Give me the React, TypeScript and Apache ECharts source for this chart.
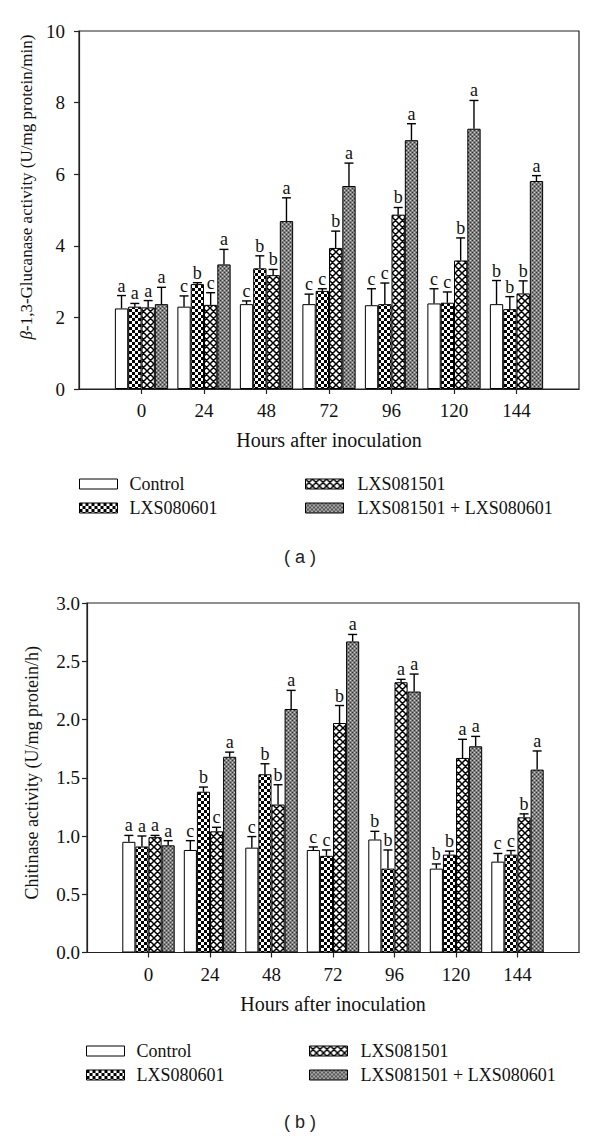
import React, { useEffect, useRef } from "react";
import * as echarts from "echarts";

// ---------- data ----------
const hours = ["0", "24", "48", "72", "96", "120", "144"];
const edgeLabels = ["-24", "168"];
const seriesNames = ["Control", "LXS080601", "LXS081501", "LXS081501 + LXS080601"];

// (a) beta-1,3-glucanase activity
const glucControl = [2.25, 2.3, 2.37, 2.37, 2.34, 2.39, 2.37];
const glucControlErr = [0.36, 0.3, 0.09, 0.28, 0.46, 0.41, 0.66];
const glucLXS080601 = [2.3, 2.93, 3.37, 2.74, 2.37, 2.41, 2.23];
const glucLXS080601Err = [0.09, 0.04, 0.35, 0.06, 0.59, 0.3, 0.35];
const glucLXS081501 = [2.28, 2.35, 3.18, 3.94, 4.87, 3.59, 2.67];
const glucLXS081501Err = [0.19, 0.34, 0.16, 0.47, 0.2, 0.63, 0.35];
const glucCombo = [2.37, 3.48, 4.69, 5.67, 6.95, 7.27, 5.81];
const glucComboErr = [0.47, 0.42, 0.65, 0.64, 0.46, 0.79, 0.15];
const glucLettersControl = ["a", "c", "c", "c", "c", "c", "b"];
const glucLettersLXS080601 = ["a", "b", "b", "c", "c", "c", "b"];
const glucLettersLXS081501 = ["a", "c", "b", "b", "b", "b", "b"];
const glucLettersCombo = ["a", "a", "a", "a", "a", "a", "a"];

// (b) chitinase activity
const chitControl = [0.95, 0.88, 0.9, 0.88, 0.97, 0.72, 0.78];
const chitControlErr = [0.055, 0.08, 0.095, 0.026, 0.07, 0.04, 0.07];
const chitLXS080601 = [0.91, 1.38, 1.53, 0.83, 0.72, 0.84, 0.84];
const chitLXS080601Err = [0.09, 0.04, 0.09, 0.05, 0.16, 0.03, 0.035];
const chitLXS081501 = [0.99, 1.04, 1.27, 1.97, 2.32, 1.67, 1.16];
const chitLXS081501Err = [0.015, 0.035, 0.17, 0.15, 0.025, 0.16, 0.03];
const chitCombo = [0.92, 1.68, 2.09, 2.67, 2.24, 1.77, 1.57];
const chitComboErr = [0.04, 0.04, 0.16, 0.06, 0.15, 0.085, 0.16];
const chitLettersControl = ["a", "c", "c", "c", "b", "b", "c"];
const chitLettersLXS080601 = ["a", "b", "b", "c", "b", "b", "c"];
const chitLettersLXS081501 = ["a", "c", "b", "b", "a", "a", "b"];
const chitLettersCombo = ["a", "a", "a", "a", "a", "a", "a"];

const glucTicks = ["0", "2", "4", "6", "8", "10"];
const chitTicks = ["0.0", "0.5", "1.0", "1.5", "2.0", "2.5", "3.0"];

// ---------- style ----------
const SERIF = "Liberation Serif";
const SANS = "Liberation Sans";
const INK = "#111";
const BAR_FRAC = 0.213;

function makePattern(size: number, draw: (ctx: CanvasRenderingContext2D, s: number) => void) {
  const c = document.createElement("canvas");
  c.width = size;
  c.height = size;
  const ctx = c.getContext("2d") as CanvasRenderingContext2D;
  draw(ctx, size);
  return { image: c.toDataURL(), repeat: "repeat", imageWidth: size, imageHeight: size } as any;
}

function buildPatterns() {
  const white = "#ffffff";
  const checker = makePattern(6, (ctx, s) => {
    ctx.fillStyle = "#fff";
    ctx.fillRect(0, 0, s, s);
    ctx.fillStyle = "#000";
    ctx.fillRect(0, 0, 3, 3);
    ctx.fillRect(3, 3, 3, 3);
  });
  const cross = makePattern(7, (ctx, s) => {
    ctx.fillStyle = "#fff";
    ctx.fillRect(0, 0, s, s);
    ctx.strokeStyle = "#000";
    ctx.lineWidth = 1.5;
    ctx.beginPath();
    for (let k = -1; k <= 1; k++) {
      ctx.moveTo(k * s - 1, -1);
      ctx.lineTo(k * s + s + 1, s + 1);
      ctx.moveTo(k * s + s + 1, -1);
      ctx.lineTo(k * s - 1, s + 1);
    }
    ctx.stroke();
  });
  const stipple = makePattern(4, (ctx, s) => {
    ctx.fillStyle = "#7e7e7e";
    ctx.fillRect(0, 0, s, s);
    ctx.fillStyle = "#333";
    ctx.fillRect(0, 0, 1, 1);
    ctx.fillRect(2, 2, 1, 1);
    ctx.fillStyle = "#d0d0d0";
    ctx.fillRect(0, 2, 1, 1);
    ctx.fillRect(2, 0, 1, 1);
  });
  return [white, checker, cross, stipple];
}

export default function App() {
  const ref = useRef<HTMLDivElement>(null);

  useEffect(() => {
    document.body.style.margin = "0";
    if (!ref.current) return;
    const chart = echarts.init(ref.current, null, { renderer: "svg" });
    const fills = buildPatterns();
    const xCats = [edgeLabels[0], ...hours, edgeLabels[1]];

    const panels = [
      {
        vals: [glucControl, glucLXS080601, glucLXS081501, glucCombo],
        errs: [glucControlErr, glucLXS080601Err, glucLXS081501Err, glucComboErr],
        letters: [glucLettersControl, glucLettersLXS080601, glucLettersLXS081501, glucLettersCombo],
        ticks: glucTicks,
        max: 10,
        interval: 2,
        grid: { left: 79, top: 31, width: 500, height: 358 },
        yName: "{it|β}-1,3-Glucanase activity (U/mg protein/min)",
        yNameGap: 33,
        yNameSize: 17,
        yNameShift: 46,
        labelMargin: 14,
        legendX: [79, 305],
        legendTextX: [129, 357],
        legendY: [484, 508],
        tag: "( a )",
        tagY: 557,
      },
      {
        vals: [chitControl, chitLXS080601, chitLXS081501, chitCombo],
        errs: [chitControlErr, chitLXS080601Err, chitLXS081501Err, chitComboErr],
        letters: [chitLettersControl, chitLettersLXS080601, chitLettersLXS081501, chitLettersCombo],
        ticks: chitTicks,
        max: 3,
        interval: 0.5,
        grid: { left: 87, top: 603, width: 492, height: 349.5 },
        yName: "Chitinase activity (U/mg protein/h)",
        yNameGap: 46,
        yNameSize: 18,
        yNameShift: 10,
        labelMargin: 7,
        legendX: [86, 309],
        legendTextX: [136, 360],
        legendY: [1051, 1075],
        tag: "( b )",
        tagY: 1122,
      },
    ];

    const grids: any[] = [];
    const xAxes: any[] = [];
    const yAxes: any[] = [];
    const series: any[] = [];
    const legends: any[] = [];
    const graphics: any[] = [];

    panels.forEach((p, g) => {
      grids.push({ ...p.grid, show: true, borderColor: "#222", borderWidth: 1.2, backgroundColor: "transparent" });
      xAxes.push({
        type: "category",
        gridIndex: g,
        data: xCats,
        boundaryGap: false,
        axisLine: { show: true, lineStyle: { color: "#222", width: 1.2 } },
        axisTick: {
          show: true,
          length: 5,
          inside: false,
          interval: (idx: number) => idx !== 0 && idx !== xCats.length - 1,
          lineStyle: { color: "#222", width: 1.2 },
        },
        axisLabel: {
          interval: 0,
          margin: 12,
          fontSize: 19,
          fontFamily: SERIF,
          color: INK,
          formatter: (v: string, idx: number) => (idx === 0 || idx === xCats.length - 1 ? "" : v),
        },
        splitLine: { show: false },
        name: "Hours after inoculation",
        nameLocation: "middle",
        nameGap: 41,
        nameTextStyle: { fontSize: 20, fontFamily: SERIF, color: INK },
      });
      yAxes.push({
        type: "value",
        gridIndex: g,
        min: 0,
        max: p.max,
        interval: p.interval,
        axisLine: { show: true, lineStyle: { color: "#222", width: 1.2 } },
        axisTick: { show: true, length: 5, inside: false, lineStyle: { color: "#222", width: 1.2 } },
        axisLabel: {
          margin: p.labelMargin,
          fontSize: 19,
          fontFamily: SERIF,
          color: INK,
          formatter: (v: number) => {
            const i = Math.round(v / p.interval);
            return p.ticks[i] ?? "";
          },
        },
        splitLine: { show: false },
        name: p.yName,
        nameLocation: "middle",
        nameGap: p.yNameGap,
        nameTextStyle: {
          fontSize: p.yNameSize,
          fontFamily: SERIF,
          color: INK,
          padding: [0, 0, 0, p.yNameShift],
          rich: { it: { fontStyle: "italic", fontSize: p.yNameSize, fontFamily: SERIF, color: INK } },
        },
      });

      seriesNames.forEach((name, s) => {
        series.push({
          type: "bar",
          name,
          xAxisIndex: g,
          yAxisIndex: g,
          data: ["-", ...p.vals[s], "-"],
          barWidth: BAR_FRAC * 100 + "%",
          barGap: "0%",
          silent: true,
          itemStyle: { color: fills[s], borderColor: "#000", borderWidth: 1 },
          z: 2,
        });
      });

      seriesNames.forEach((name, s) => {
        const letters = p.letters[s];
        series.push({
          type: "custom",
          name: "err-" + g + "-" + s,
          xAxisIndex: g,
          yAxisIndex: g,
          silent: true,
          clip: false,
          z: 5,
          encode: { x: 0, y: 1 },
          data: p.vals[s].map((v, i) => [i + 1, v, p.errs[s][i]]),
          renderItem: (params: any, api: any) => {
            const x = api.value(0);
            const v = api.value(1);
            const e = api.value(2);
            const base = api.coord([x, v]);
            const top = api.coord([x, v + e]);
            const band = api.size([1, 0])[0];
            const bw = band * BAR_FRAC;
            const cx = base[0] + (s - 1.5) * bw;
            const cap = 4.5;
            return {
              type: "group",
              children: [
                {
                  type: "line",
                  shape: { x1: cx, y1: base[1], x2: cx, y2: top[1] },
                  style: { stroke: "#000", lineWidth: 1.4 },
                },
                {
                  type: "line",
                  shape: { x1: cx - cap, y1: top[1], x2: cx + cap, y2: top[1] },
                  style: { stroke: "#000", lineWidth: 1.4 },
                },
                {
                  type: "text",
                  style: {
                    text: letters[params.dataIndex],
                    x: cx,
                    y: top[1] - 1,
                    align: "center",
                    verticalAlign: "bottom",
                    fontSize: 18,
                    fontFamily: SERIF,
                    fill: INK,
                  },
                },
              ],
            };
          },
        });
      });

      // legends: column 1 = Control, LXS080601 ; column 2 = LXS081501, combo
      const layout = [
        [0, 0],
        [0, 1],
        [1, 0],
        [1, 1],
      ];
      seriesNames.forEach((name, s) => {
        const [col, row] = layout[s];
        legends.push({
          data: [name],
          left: p.legendX[col],
          top: p.legendY[row] - 10,
          padding: 0,
          itemWidth: 38,
          itemHeight: 10,
          icon: "rect",
          selectedMode: false,
          itemStyle: { borderColor: "#000", borderWidth: 1 },
          textStyle: {
            fontSize: 18,
            fontFamily: SERIF,
            color: INK,
            lineHeight: 20,
            padding: [0, 0, 0, p.legendTextX[col] - p.legendX[col] - 38 - 5],
          },
        });
      });

      graphics.push({
        type: "text",
        x: 300,
        y: p.tagY,
        style: {
          text: p.tag,
          align: "center",
          verticalAlign: "middle",
          fontSize: 18,
          fontFamily: SANS,
          fill: "#222",
        },
      });
    });

    chart.setOption({
      animation: false,
      backgroundColor: "#fff",
      grid: grids,
      xAxis: xAxes,
      yAxis: yAxes,
      legend: legends,
      series,
      graphic: graphics,
    });

    return () => chart.dispose();
  }, []);

  return <div ref={ref} style={{ width: 600, height: 1139 }} />;
}
